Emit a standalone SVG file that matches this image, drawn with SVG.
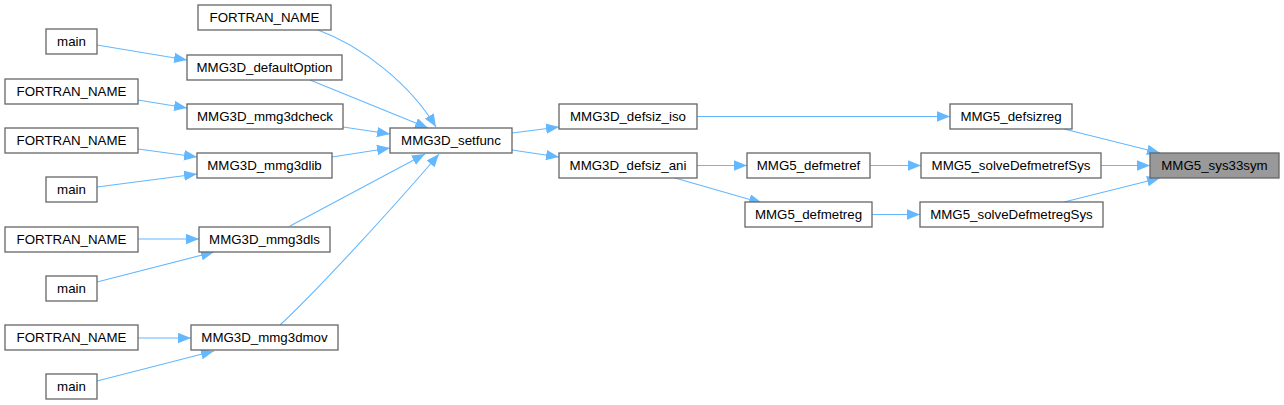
<svg xmlns="http://www.w3.org/2000/svg" width="1284" height="405" viewBox="0 0 1284 405">
<style>
.n rect{fill:#ffffff;stroke:#666666;stroke-width:1.3}
.n.h rect{fill:#999999}
.n text{font-family:"Liberation Sans",Arial,Helvetica,sans-serif;font-size:13.3px;fill:#000000;text-anchor:middle}
.e path{fill:none;stroke:#63b8ff;stroke-width:1.1;marker-end:url(#ah)}
</style>
<defs>
<marker id="ah" markerUnits="userSpaceOnUse" markerWidth="14" markerHeight="11" refX="13" refY="5.2" orient="auto" viewBox="0 0 14 11">
<path d="M0,0 L13,5.2 L0,10.4 z" fill="#63b8ff"/>
</marker>
</defs>
<rect width="1284" height="405" fill="#ffffff"/>
<g id="edges" class="e">
<path d="M318,30 C362,46 410,84 436,127"/>
<path d="M97,45 L187,60"/>
<path d="M310,80 L428,128"/>
<path d="M138,100 L187,108"/>
<path d="M343,127 L390,134"/>
<path d="M138,149 L197,157"/>
<path d="M97,187 L197,174"/>
<path d="M332,157 L390,148"/>
<path d="M138,239 L199,239"/>
<path d="M97,282 L214,252"/>
<path d="M290,226 L425,154"/>
<path d="M138,338 L191,338"/>
<path d="M97,381 L214,351"/>
<path d="M280,325 C318,290 400,200 439,154"/>
<path d="M512,133 L559,127"/>
<path d="M512,150 L559,157"/>
<path d="M697,116.5 L950,116.5"/>
<path d="M697,165.5 L747,165.5"/>
<path d="M675,178 L762,203"/>
<path d="M870,165.5 L921,165.5"/>
<path d="M872,214.5 L920,214.5"/>
<path d="M1064,129 L1160,153"/>
<path d="M1101,165.5 L1150,165.5"/>
<path d="M1064,202 L1160,178"/>
</g>
<g id="n_fortran1" class="n"><rect x="198" y="5" width="133" height="25"/><text x="264.5" y="22">FORTRAN_NAME</text></g>
<g id="n_main1" class="n"><rect x="46" y="29" width="51" height="25"/><text x="71.5" y="46">main</text></g>
<g id="n_defaultOption" class="n"><rect x="187" y="55" width="155" height="25"/><text x="264.5" y="72">MMG3D_defaultOption</text></g>
<g id="n_fortran2" class="n"><rect x="5" y="79" width="133" height="25"/><text x="71.5" y="96">FORTRAN_NAME</text></g>
<g id="n_mmg3dcheck" class="n"><rect x="187" y="104" width="156" height="25"/><text x="265" y="121">MMG3D_mmg3dcheck</text></g>
<g id="n_fortran3" class="n"><rect x="5" y="128" width="133" height="25"/><text x="71.5" y="145">FORTRAN_NAME</text></g>
<g id="n_mmg3dlib" class="n"><rect x="197" y="153" width="135" height="25"/><text x="264.5" y="170">MMG3D_mmg3dlib</text></g>
<g id="n_main2" class="n"><rect x="46" y="177" width="51" height="25"/><text x="71.5" y="194">main</text></g>
<g id="n_fortran4" class="n"><rect x="5" y="227" width="133" height="25"/><text x="71.5" y="244">FORTRAN_NAME</text></g>
<g id="n_mmg3dls" class="n"><rect x="199" y="227" width="131" height="25"/><text x="264.5" y="244">MMG3D_mmg3dls</text></g>
<g id="n_main3" class="n"><rect x="46" y="276" width="51" height="25"/><text x="71.5" y="293">main</text></g>
<g id="n_fortran5" class="n"><rect x="5" y="325" width="133" height="25"/><text x="71.5" y="342">FORTRAN_NAME</text></g>
<g id="n_mmg3dmov" class="n"><rect x="191" y="325" width="147" height="25"/><text x="264.5" y="342">MMG3D_mmg3dmov</text></g>
<g id="n_main4" class="n"><rect x="46" y="374" width="51" height="25"/><text x="71.5" y="391">main</text></g>
<g id="n_setfunc" class="n"><rect x="390" y="128" width="122" height="25"/><text x="451" y="145">MMG3D_setfunc</text></g>
<g id="n_defsiz_iso" class="n"><rect x="559" y="104" width="138" height="25"/><text x="628" y="121">MMG3D_defsiz_iso</text></g>
<g id="n_defsiz_ani" class="n"><rect x="559" y="153" width="138" height="25"/><text x="628" y="170">MMG3D_defsiz_ani</text></g>
<g id="n_defsizreg" class="n"><rect x="950" y="104" width="122" height="25"/><text x="1011" y="121">MMG5_defsizreg</text></g>
<g id="n_defmetref" class="n"><rect x="747" y="153" width="123" height="25"/><text x="808.5" y="170">MMG5_defmetref</text></g>
<g id="n_defmetreg" class="n"><rect x="745" y="202" width="127" height="25"/><text x="808.5" y="219">MMG5_defmetreg</text></g>
<g id="n_solveDefmetrefSys" class="n"><rect x="921" y="153" width="180" height="25"/><text x="1011" y="170">MMG5_solveDefmetrefSys</text></g>
<g id="n_solveDefmetregSys" class="n"><rect x="920" y="202" width="183" height="25"/><text x="1011.5" y="219">MMG5_solveDefmetregSys</text></g>
<g id="n_sys33sym" class="n h"><rect x="1150" y="153" width="129" height="25"/><text x="1214.5" y="170">MMG5_sys33sym</text></g>
</svg>
